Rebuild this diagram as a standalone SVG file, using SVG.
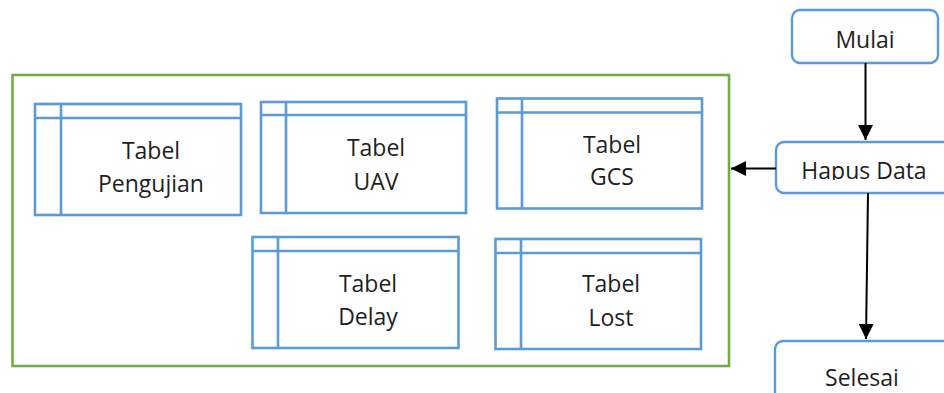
<svg xmlns="http://www.w3.org/2000/svg" width="944" height="393" viewBox="0 0 944 393">
  <style>
    .tbl { fill: #ffffff; stroke: #5b9bd5; stroke-width: 2.6; }
    .sep { stroke: #5b9bd5; stroke-width: 2.6; fill: none; }
    .step { fill: #ffffff; stroke: #5b9bd5; stroke-width: 2.4; }
    .frame { fill: none; stroke: #70ad47; stroke-width: 2.6; }
    .lbl { font-family: "Open Sans", "Liberation Sans", sans-serif; font-size: 23px; fill: #1e1e1e; text-anchor: middle; }
    .flow { stroke: #000000; stroke-width: 2; fill: none; marker-end: url(#head); }
  </style>
  <defs>
    <marker id="head" markerUnits="userSpaceOnUse" markerWidth="16" markerHeight="15" refX="15" refY="7.5" orient="auto">
      <path d="M0,0 L15,7.5 L0,15 Z" fill="#000000"/>
    </marker>
    <clipPath id="hapusClip">
      <rect x="776" y="142" width="168" height="38"/>
    </clipPath>
  </defs>
  <rect width="944" height="393" fill="#ffffff"/>

  <!-- database container -->
  <g id="database">
    <rect class="frame" x="12.5" y="75" width="716.5" height="291"/>
  </g>

  <!-- tables -->
  <g id="tabel-pengujian">
    <rect class="tbl" x="35" y="104" width="206" height="111"/>
    <path class="sep" d="M35,118 H241 M61,104 V215"/>
    <text class="lbl" x="151" y="159">Tabel</text>
    <text class="lbl" x="151" y="192">Pengujian</text>
  </g>
  <g id="tabel-uav">
    <rect class="tbl" x="261" y="102" width="205" height="111"/>
    <path class="sep" d="M261,115 H466 M286,102 V213"/>
    <text class="lbl" x="376" y="156">Tabel</text>
    <text class="lbl" x="376" y="190">UAV</text>
  </g>
  <g id="tabel-gcs">
    <rect class="tbl" x="497" y="98.5" width="205" height="110"/>
    <path class="sep" d="M497,112.5 H702 M522,98.5 V208.5"/>
    <text class="lbl" x="612" y="153">Tabel</text>
    <text class="lbl" x="612" y="185">GCS</text>
  </g>
  <g id="tabel-delay">
    <rect class="tbl" x="252.5" y="237" width="206" height="111"/>
    <path class="sep" d="M252.5,251 H458.5 M278,237 V348"/>
    <text class="lbl" x="368" y="292">Tabel</text>
    <text class="lbl" x="368" y="325">Delay</text>
  </g>
  <g id="tabel-lost">
    <rect class="tbl" x="495.5" y="239" width="205.5" height="110"/>
    <path class="sep" d="M495.5,253 H701 M521,239 V349"/>
    <text class="lbl" x="611" y="292">Tabel</text>
    <text class="lbl" x="611" y="326">Lost</text>
  </g>

  <!-- flow steps -->
  <g id="mulai">
    <rect class="step" x="792" y="10" width="146" height="53" rx="8"/>
    <text class="lbl" x="865" y="48">Mulai</text>
  </g>
  <g id="hapus-data">
    <rect class="step" x="776" y="142" width="190" height="51" rx="8"/>
    <text class="lbl" x="864" y="179" clip-path="url(#hapusClip)">Hapus Data</text>
  </g>
  <g id="selesai">
    <rect class="step" x="775" y="341" width="190" height="70" rx="8"/>
    <text class="lbl" x="862" y="386">Selesai</text>
  </g>

  <!-- connectors -->
  <g id="connectors">
    <line class="flow" x1="865.5" y1="63" x2="865.5" y2="140"/>
    <line class="flow" x1="776" y1="168.5" x2="731" y2="168.5"/>
    <line class="flow" x1="868" y1="193" x2="866" y2="339"/>
  </g>
</svg>
